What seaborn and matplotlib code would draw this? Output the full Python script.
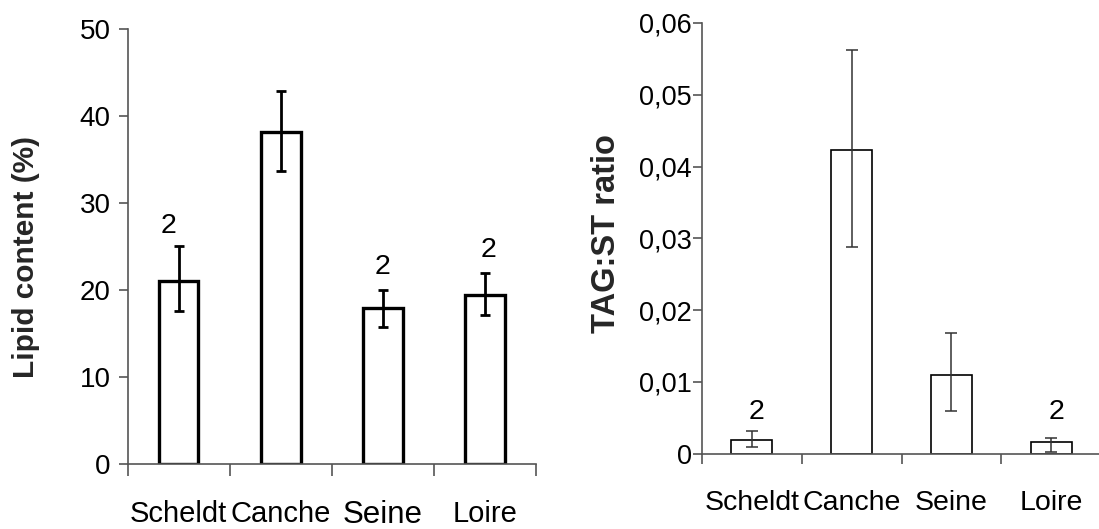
import matplotlib
matplotlib.use("Agg")
import matplotlib.pyplot as plt
import seaborn as sns
import numpy as np
import pandas as pd

sns.set_style("white")
plt.rcParams['font.family'] = ['Liberation Sans', 'DejaVu Sans']

# ---- data ----
sites = ["Scheldt", "Canche", "Seine", "Loire"]

lipid_mean = [21.0, 38.2, 17.9, 19.4]
lipid_low = [17.6, 33.7, 15.8, 17.1]
lipid_high = [25.0, 42.9, 20.0, 21.9]
lipid_n_labels = ["2", "", "2", "2"]
lipid_n_y = [27.3, 0, 22.6, 24.6]
lipid_yticks = [0, 10, 20, 30, 40, 50]

tag_mean = [0.0019, 0.0423, 0.0110, 0.0016]
tag_low = [0.0009, 0.0288, 0.0060, 0.0003]
tag_high = [0.0031, 0.0563, 0.0168, 0.0022]
tag_n_labels = ["2", "", "", "2"]
tag_n_y = [0.0058, 0, 0, 0.0058]
tag_yticks = [0, 0.01, 0.02, 0.03, 0.04, 0.05, 0.06]
tag_yticklabels = ["0", "0,01", "0,02", "0,03", "0,04", "0,05", "0,06"]

W, H = 1099, 529
fig = plt.figure(figsize=(W / 100, H / 100), dpi=100)

axL = fig.add_axes([127.5 / W, 1 - 464 / H, 408.5 / W, 435 / H])
axR = fig.add_axes([702 / W, 1 - 453.7 / H, 399 / W, 430.7 / H])

spine_col = "#555555"


def draw(ax, mean, low, high, nlab, ny, bar_lw, err_lw, err_col, cap, width,
         ylim, yticks, yticklabels, ylabel, ylabel_size, ylabel_xy,
         xtick_size, ytick_size, xpad, ypad, ytick_len, xtick_len, ann_dx, ann_size):
    df = pd.DataFrame({"site": sites, "val": mean})
    sns.barplot(data=df, x="site", y="val", ax=ax, color="white",
                edgecolor="black", linewidth=bar_lw, width=width,
                errorbar=None, saturation=1)
    m = np.array(mean)
    yerr = [m - np.array(low), np.array(high) - m]
    ax.errorbar(np.arange(len(sites)), m, yerr=yerr, fmt="none",
                ecolor=err_col, elinewidth=err_lw, capsize=cap, capthick=err_lw)
    for i, (t, yy) in enumerate(zip(nlab, ny)):
        if t:
            ax.text(i + ann_dx[i], yy, t, ha="center", va="center",
                    fontsize=ann_size, color="black")
    ax.set_xlim(-0.5, 3.5)
    ax.set_ylim(*ylim)
    ax.set_yticks(yticks)
    ax.set_yticklabels(yticklabels)
    ax.set_xlabel("")
    ax.set_ylabel(ylabel, fontsize=ylabel_size, fontweight="bold")
    ax.yaxis.set_label_coords(*ylabel_xy)
    for s in ["top", "right"]:
        ax.spines[s].set_visible(False)
    for s in ["left", "bottom"]:
        ax.spines[s].set_color(spine_col)
        ax.spines[s].set_linewidth(1.2)
    ax.set_xticks(np.arange(len(sites)))
    ax.set_xticklabels(sites)
    ax.set_xticks(np.arange(-0.5, 3.6, 1.0), minor=True)
    ax.tick_params(axis="x", which="major", length=0, pad=xpad,
                   labelsize=xtick_size, labelcolor="black")
    ax.tick_params(axis="x", which="minor", length=xtick_len, width=1.2,
                   color=spine_col, direction="out", bottom=True)
    ax.tick_params(axis="y", which="major", length=ytick_len, width=1.2,
                   color=spine_col, direction="out", left=True, pad=ypad,
                   labelsize=ytick_size, labelcolor="black")
    ax.set_facecolor("white")


draw(axL, lipid_mean, lipid_low, lipid_high, lipid_n_labels, lipid_n_y,
     bar_lw=2.4, err_lw=2.0, err_col="black", cap=3.5, width=0.39,
     ylim=(0, 50), yticks=lipid_yticks,
     yticklabels=[str(v) for v in lipid_yticks],
     ylabel="Lipid content (%)", ylabel_size=21.5, ylabel_xy=(-0.215, 0.475),
     xtick_size=21, ytick_size=20, xpad=26, ypad=5.5, ytick_len=6.5,
     xtick_len=8.6, ann_dx=[-0.1, 0, 0, 0.03], ann_size=20.5)

draw(axR, tag_mean, tag_low, tag_high, tag_n_labels, tag_n_y,
     bar_lw=1.2, err_lw=1.1, err_col="#333333", cap=4.2, width=0.41,
     ylim=(0, 0.06), yticks=tag_yticks, yticklabels=tag_yticklabels,
     ylabel="TAG:ST ratio", ylabel_size=23.5, ylabel_xy=(-0.2, 0.512),
     xtick_size=20.5, ytick_size=19.5, xpad=26, ypad=1, ytick_len=6.5,
     xtick_len=7.2, ann_dx=[0.05, 0, 0, 0.05], ann_size=20.5)

# Seine label on left panel is slightly larger and lower
lab = axL.get_xticklabels()[2]
lab.set_fontsize(22.5)

fig.savefig("out.png", dpi=100, facecolor="white")
